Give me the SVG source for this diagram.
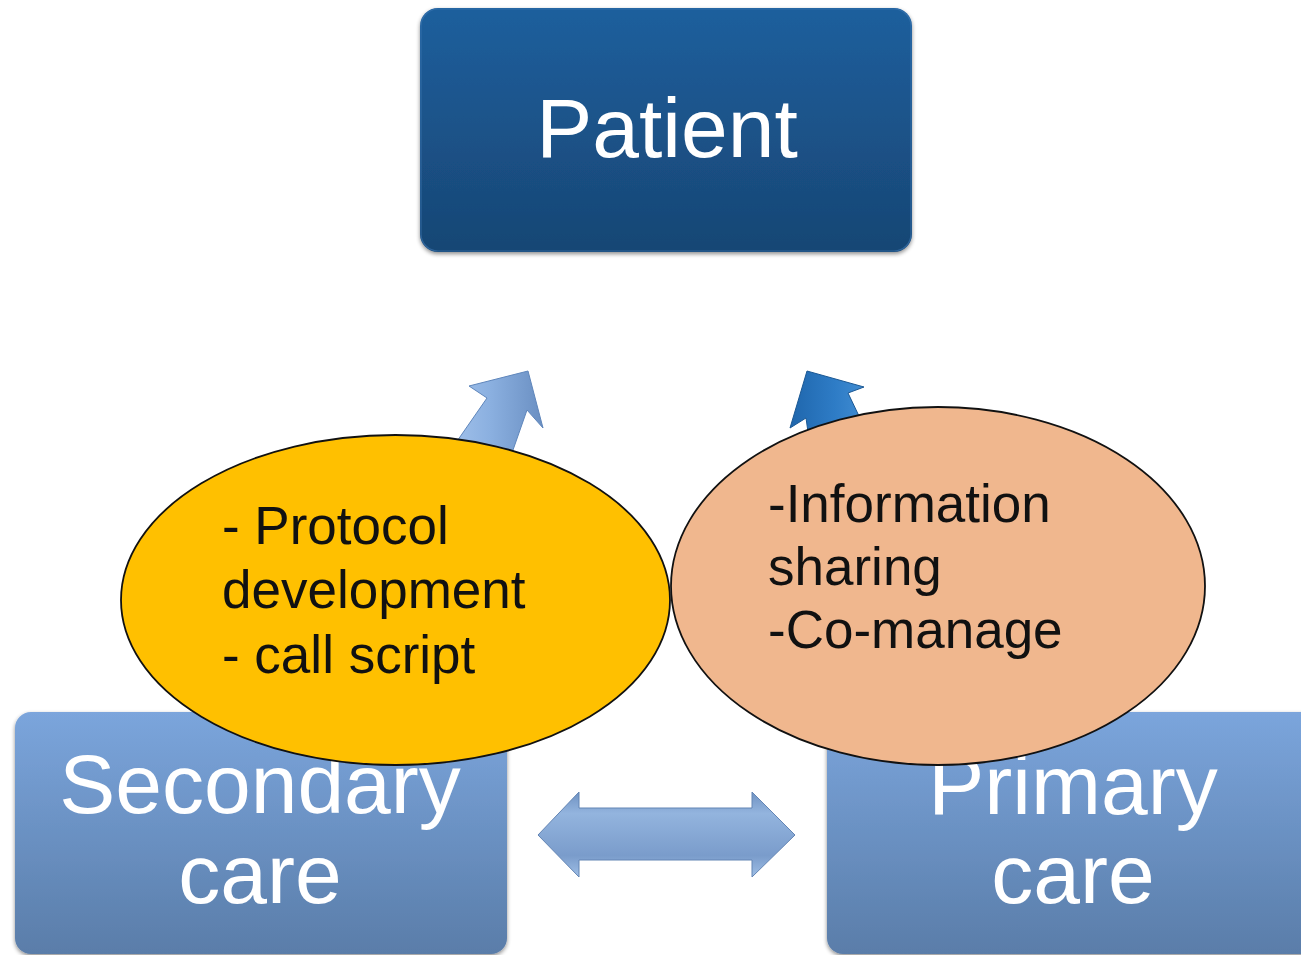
<svg xmlns="http://www.w3.org/2000/svg" width="1301" height="955" viewBox="0 0 1301 955">
  <defs>
    <linearGradient id="gradDark" x1="0" y1="0" x2="0" y2="1">
      <stop offset="0" stop-color="#1f5f9d"/>
      <stop offset="1" stop-color="#174674"/>
    </linearGradient>
    <linearGradient id="gradLight" x1="0" y1="0" x2="0" y2="1">
      <stop offset="0" stop-color="#7ba5dc"/>
      <stop offset="1" stop-color="#5a7da9"/>
    </linearGradient>
    <linearGradient id="gradArrowL" x1="0" y1="0" x2="1" y2="0">
      <stop offset="0" stop-color="#a9c7ee"/>
      <stop offset="0.5" stop-color="#8bb0e0"/>
      <stop offset="1" stop-color="#6a8fc2"/>
    </linearGradient>
    <linearGradient id="gradArrowR" x1="0" y1="0" x2="1" y2="0">
      <stop offset="0" stop-color="#1f66ac"/>
      <stop offset="0.5" stop-color="#2e7cc6"/>
      <stop offset="1" stop-color="#4b95d8"/>
    </linearGradient>
    <linearGradient id="gradBoth" x1="0" y1="0" x2="0" y2="1">
      <stop offset="0" stop-color="#6f92c2"/>
      <stop offset="0.25" stop-color="#93b4de"/>
      <stop offset="0.75" stop-color="#7a9ccb"/>
      <stop offset="1" stop-color="#9fbfe6"/>
    </linearGradient>
    <filter id="soft" x="-5%" y="-5%" width="110%" height="115%">
      <feGaussianBlur in="SourceAlpha" stdDeviation="2"/>
      <feOffset dy="1.5"/>
      <feComponentTransfer><feFuncA type="linear" slope="0.45"/></feComponentTransfer>
      <feMerge><feMergeNode/><feMergeNode in="SourceGraphic"/></feMerge>
    </filter>
  </defs>
  <style>
    .box-label { font-family: "Liberation Sans", Arial, sans-serif; fill: #ffffff; text-anchor: middle; }
    .bubble-label { font-family: "Liberation Sans", Arial, sans-serif; fill: #111111; font-size: 53px; }
    .bubble { stroke: #111111; stroke-width: 1.8; }
  </style>

  <rect width="1301" height="955" fill="#ffffff"/>

  <!-- top node -->
  <g id="node-patient">
    <rect x="420" y="8" width="492" height="244" rx="18" fill="url(#gradDark)" filter="url(#soft)"/>
    <rect x="421" y="9" width="490" height="242" rx="17" fill="none" stroke="#3e78b4" stroke-width="1.2" opacity="0.6"/>
    <text class="box-label" x="667" y="157" font-size="84">Patient</text>
  </g>

  <!-- bottom nodes -->
  <g id="node-secondary">
    <rect x="15" y="712" width="492" height="242" rx="16" fill="url(#gradLight)" filter="url(#soft)"/>
    <text class="box-label" x="260" y="813" font-size="84">Secondary</text>
    <text class="box-label" x="260" y="903" font-size="84">care</text>
  </g>

  <g id="node-primary">
    <rect x="827" y="712" width="500" height="242" rx="16" fill="url(#gradLight)" filter="url(#soft)"/>
    <text class="box-label" x="1073" y="814" font-size="84">Primary</text>
    <text class="box-label" x="1073" y="903" font-size="84">care</text>
  </g>

  <!-- connectors -->
  <g id="connectors">
    <polygon points="528,371 543,428 527,410 506,470 437,470 487,398 469,386" fill="url(#gradArrowL)" stroke="#5f86bb" stroke-width="1"/>
    <polygon points="807,371 864,387 848,393 880,460 812,460 806,418 790,428" fill="url(#gradArrowR)" stroke="#1b5894" stroke-width="1"/>
    <polygon points="538,835 579,792 579,808 752,808 752,792 795,835 752,877 752,860 579,860 579,877" fill="url(#gradBoth)" stroke="#6385b4" stroke-width="1"/>
  </g>

  <!-- annotation bubbles -->
  <g id="bubble-secondary">
    <ellipse class="bubble" cx="395.5" cy="600" rx="274.5" ry="165" fill="#ffc000"/>
    <text class="bubble-label" x="222" y="544">- Protocol</text>
    <text class="bubble-label" x="222" y="608">development</text>
    <text class="bubble-label" x="222" y="673">- call script</text>
  </g>

  <g id="bubble-primary">
    <ellipse class="bubble" cx="938" cy="586" rx="267" ry="179" fill="#f0b78e"/>
    <text class="bubble-label" x="768" y="522">-Information</text>
    <text class="bubble-label" x="768" y="585">sharing</text>
    <text class="bubble-label" x="768" y="648">-Co-manage</text>
  </g>
</svg>
